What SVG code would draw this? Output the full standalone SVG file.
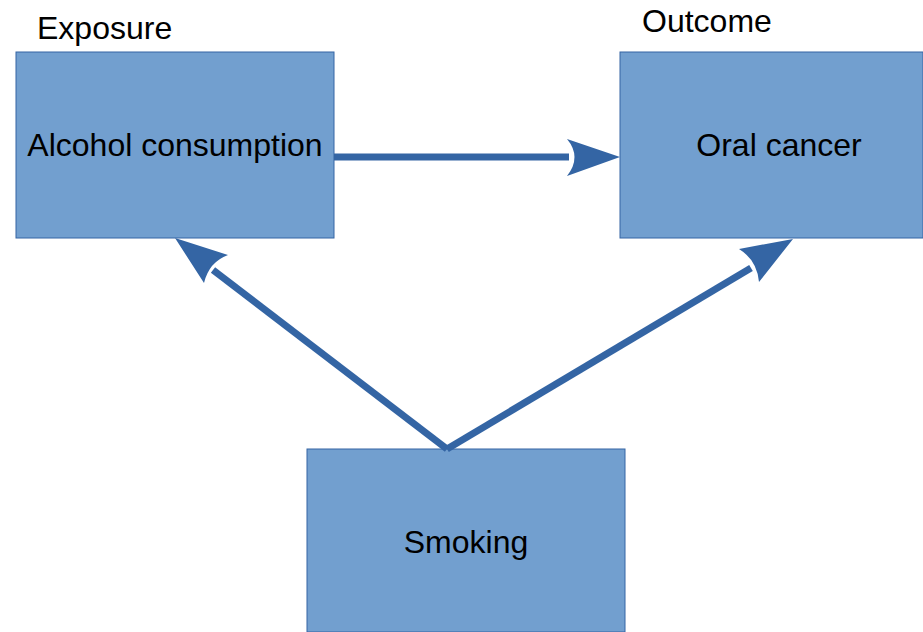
<svg xmlns="http://www.w3.org/2000/svg" width="923" height="632" viewBox="0 0 923 632">
<style>
.box{fill:#729fcf;stroke:#3465a4;stroke-width:1}
.t{font-family:"Liberation Sans",Arial,sans-serif;font-size:32px;fill:#000}
.ln{stroke:#3465a4;stroke-width:7;fill:none}
.hd{fill:#3465a4}
</style>
<rect width="923" height="632" fill="#fff"/>
<g id="exposure-label"><text class="t" x="37" y="39">Exposure</text></g>
<g id="outcome-label"><text class="t" x="642" y="32">Outcome</text></g>
<g id="alcohol"><rect class="box" x="16" y="52" width="318" height="186"/><text class="t" x="175" y="156" text-anchor="middle">Alcohol consumption</text></g>
<g id="oral"><rect class="box" x="620" y="52" width="303" height="186"/><text class="t" x="779" y="156" text-anchor="middle">Oral cancer</text></g>
<g id="smoking"><rect class="box" x="307" y="449" width="318" height="183"/><text class="t" x="466" y="553" text-anchor="middle">Smoking</text></g>
<g id="connectors">
<line class="ln" x1="334" y1="157" x2="569" y2="157"/>
<path class="hd" d="M620,157 L567,139 Q582,157 567,176 Z"/>
<line class="ln" x1="447" y1="449" x2="213" y2="270"/>
<path class="hd" d="M175,238 L228,255 Q209,262 204,283 Z"/>
<line class="ln" x1="447" y1="449" x2="751" y2="268"/>
<path class="hd" d="M793,239 L739,249 Q757,260 759,282 Z"/>
</g>
</svg>
